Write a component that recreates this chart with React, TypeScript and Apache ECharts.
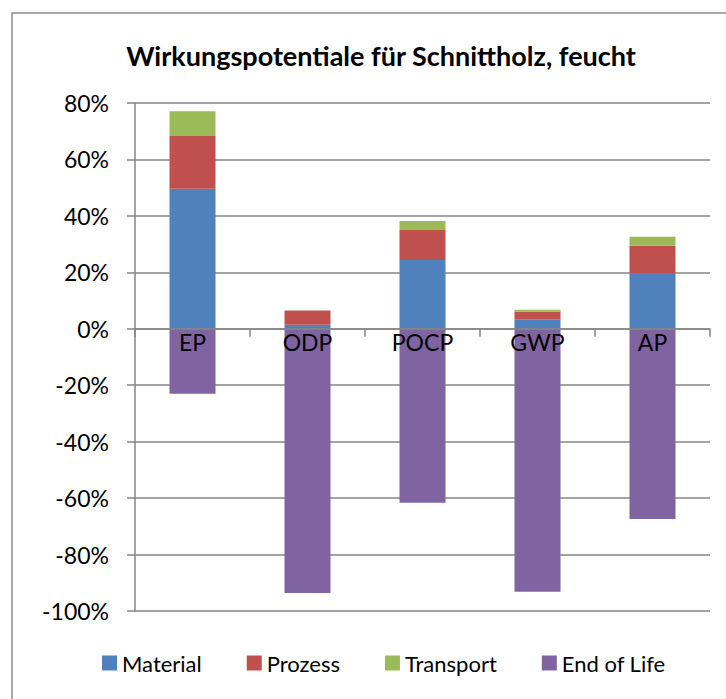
import React, { useEffect, useRef } from "react";
import * as echarts from "echarts";

const categories = ["EP", "ODP", "POCP", "GWP", "AP"];
const material = [49.6, 1.4, 24.4, 3.4, 19.8];
const prozess = [18.7, 5.1, 10.6, 2.6, 9.6];
const transport = [8.8, 0, 3.2, 0.7, 3.2];
const endOfLife = [-23.0, -93.6, -61.6, -93.2, -67.4];
const seriesNames = ["Material", "Prozess", "Transport", "End of Life"];
const colors = ["#4F81BD", "#C0504D", "#9BBB59", "#8064A2"];
const yTicks = { min: -100, max: 80, step: 20 };

const FONT = "Lato, 'Open Sans', sans-serif";

export default function App() {
  const ref = useRef<HTMLDivElement>(null);
  useEffect(() => {
    if (!ref.current) return;
    const chart = echarts.init(ref.current, null, { renderer: "svg" });
    const values = [material, prozess, transport, endOfLife];
    const gridTop = 103;
    const gridBottom = 88;
    const plotH = 699 - gridTop - gridBottom;
    const zeroOffset = -(plotH * (0 - yTicks.min)) / (yTicks.max - yTicks.min);
    chart.setOption({
      animation: false,
      backgroundColor: "#ffffff",
      textStyle: { fontFamily: FONT },
      graphic: [
        {
          type: "rect",
          shape: { x: 12, y: 13, width: 760, height: 760 },
          style: { fill: "none", stroke: "#8c8c8c", lineWidth: 1.5 },
          silent: true,
        },
      ],
      title: {
        text: "Wirkungspotentiale für Schnittholz, feucht",
        left: 376,
        textAlign: "center",
        top: 37,
        textStyle: { fontFamily: FONT, fontSize: 27, fontWeight: "bold", color: "#000" },
      },
      legend: {
        bottom: 20,
        left: 97,
        icon: "rect",
        itemWidth: 15,
        itemHeight: 15,
        itemGap: 45,
        textStyle: { fontFamily: FONT, fontSize: 22, color: "#000" },
        data: seriesNames,
      },
      grid: { left: 135, right: 16, top: gridTop, bottom: gridBottom, containLabel: false },
      xAxis: {
        type: "category",
        data: categories,
        position: "bottom",
        offset: zeroOffset,
        axisLine: { onZero: false, lineStyle: { color: "#868686", width: 1.5 } },
        axisTick: { show: true, length: 8, inside: false, lineStyle: { color: "#868686", width: 1.5 } },
        axisLabel: { fontFamily: FONT, fontSize: 23, color: "#000", margin: 2 },
        z: 5,
      },
      yAxis: {
        type: "value",
        min: yTicks.min,
        max: yTicks.max,
        interval: yTicks.step,
        axisLine: { show: true, lineStyle: { color: "#868686", width: 1.5 } },
        axisTick: { show: true, length: 8, lineStyle: { color: "#868686", width: 1.5 } },
        axisLabel: {
          fontFamily: FONT,
          fontSize: 23,
          color: "#000",
          margin: 26,
          formatter: (v: number) => `${v}%`,
        },
        splitLine: { show: true, lineStyle: { color: "#868686", width: 1.5 } },
      },
      series: seriesNames.map((name, i) => ({
        name,
        type: "bar",
        stack: "total",
        barWidth: "40%",
        data: values[i],
        itemStyle: { color: colors[i] },
      })),
    });
    return () => chart.dispose();
  }, []);
  return (
    <div
      ref={ref}
      style={{ position: "absolute", left: 0, top: 0, width: 726, height: 699 }}
    />
  );
}
